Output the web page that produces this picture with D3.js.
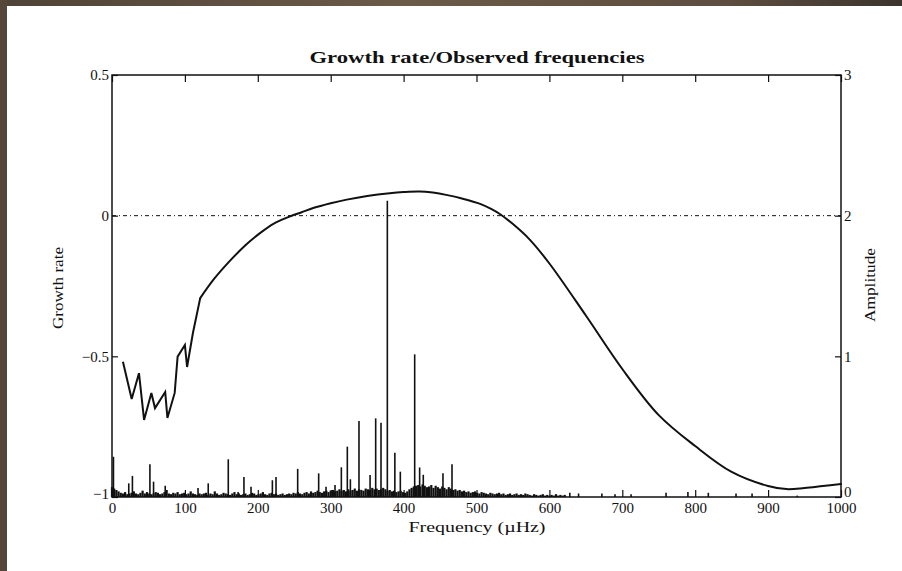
<!DOCTYPE html>
<html><head><meta charset="utf-8">
<script src="https://cdn.jsdelivr.net/npm/d3@7/dist/d3.min.js"></script>
<style>html,body{margin:0;padding:0;background:#fff;}svg{display:block;}</style>
</head><body>
<svg id="chart" width="902" height="571"></svg>
<script>
// ---------- DATA ----------
const title = "Growth rate/Observed frequencies";
const xLabel = "Frequency (µHz)";
const yLeftLabel = "Growth rate";
const yRightLabel = "Amplitude";
const xTicks = [0,100,200,300,400,500,600,700,800,900,1000];
const yLeftTicks = [-1,-0.5,0,0.5];
const yRightTicks = [0,1,2,3];

// growth rate curve, jagged low-frequency part: frequency (µHz), growth rate
const jagFreq = [15,27,37,44,54,59,73,76,86,90,100,103,111,121];
const jagRate = [-0.519,-0.652,-0.56,-0.726,-0.63,-0.684,-0.627,-0.719,-0.63,-0.501,-0.46,-0.538,-0.417,-0.293];
// growth rate curve, smooth part
const smoothFreq = [121,140,162,183,203,222,241,260,276,300,322,350,381,400,422,440,460,480,505,520,532,550,573,600,650,700,750,800,850,900,925,950,975,1000];
const smoothRate = [-0.293,-0.225,-0.16,-0.105,-0.062,-0.028,-0.006,0.012,0.027,0.044,0.057,0.07,0.08,0.084,0.086,0.082,0.073,0.061,0.042,0.024,0.006,-0.03,-0.085,-0.17,-0.355,-0.545,-0.709,-0.819,-0.911,-0.961,-0.972,-0.968,-0.961,-0.954];

// observed spectrum: prominent peaks (frequency, amplitude)
const peakFreq = [2,23,28,52,57,73,118,132,159.5,173,181,190.7,220,225,254.7,283.5,293.6,305.9,314.6,322.8,327,338.8,354,361.7,369,377.7,388,395.5,415.2,422,427,454,466.4,628,640,672,690,712,760,790,818,856,878,940];
const peakAmp  = [0.286,0.097,0.15,0.232,0.109,0.08,0.064,0.097,0.268,0.036,0.142,0.073,0.119,0.142,0.2,0.168,0.073,0.085,0.211,0.358,0.126,0.54,0.156,0.559,0.528,2.106,0.315,0.18,1.014,0.21,0.158,0.168,0.232,0.03,0.025,0.025,0.02,0.02,0.03,0.035,0.03,0.025,0.025,0.01];

// observed spectrum: noise floor, one value every 3 µHz starting at 0
const noiseStart = 0, noiseStep = 3;
const noiseAmp = [
 0.07,0.06,0.05,0.04,0.03,0.025,0.035,0.02,0.025,0.03,0.04,0.025,0.02,0.03,0.045,0.025,0.035,0.025,0.02,0.025,0.035,
 0.03,0.02,0.025,0.035,0.05,0.025,0.02,0.03,0.025,0.035,0.02,0.025,0.03,0.02,0.025,0.04,0.025,0.02,0.015,0.025,
 0.02,0.025,0.03,0.015,0.025,0.02,0.04,0.025,0.015,0.02,0.03,0.025,0.02,0.015,0.025,0.035,0.02,0.025,0.015,0.02,
 0.025,0.015,0.02,0.03,0.025,0.015,0.02,0.025,0.035,0.02,0.015,0.025,0.03,0.02,0.025,0.015,0.02,0.025,0.015,0.02,
 0.025,0.02,0.03,0.025,0.035,0.025,0.02,0.03,0.035,0.025,0.04,0.03,0.035,0.045,0.035,0.03,0.04,0.045,0.035,0.045,
 0.05,0.04,0.045,0.055,0.045,0.05,0.04,0.055,0.045,0.05,0.06,0.045,0.055,0.05,0.045,0.06,0.055,0.05,0.065,0.055,
 0.06,0.05,0.055,0.065,0.055,0.045,0.05,0.04,0.045,0.035,0.04,0.045,0.035,0.03,0.04,0.055,0.065,0.075,0.08,0.085,
 0.075,0.09,0.08,0.07,0.075,0.085,0.065,0.08,0.07,0.06,0.075,0.065,0.055,0.07,0.06,0.05,0.055,0.045,0.05,0.04,
 0.045,0.035,0.04,0.03,0.035,0.04,0.03,0.025,0.035,0.03,0.025,0.02,0.03,0.025,0.02,0.025,0.03,0.02,0.025,0.015,
 0.02,0.025,0.015,0.02,0.025,0.015,0.02,0.015,0.025,0.02,0.015,0.01,0.02,0.015,0.01,0.015,0.02,0.01,0.015,0.01,
 0.015,0.01,0.02,0.01,0.015,0.01,0.015
];

// ---------- DRAW ----------
const svg = d3.select("#chart");
const serif = "'Liberation Serif','DejaVu Serif',serif";

// slide background frame
const defs = svg.append("defs");
const grad = defs.append("linearGradient").attr("id","topband");
grad.append("stop").attr("offset","0%").attr("stop-color","#4f4337");
grad.append("stop").attr("offset","45%").attr("stop-color","#6c5a48");
grad.append("stop").attr("offset","80%").attr("stop-color","#5e4e3f");
grad.append("stop").attr("offset","100%").attr("stop-color","#3c342d");
svg.append("rect").attr("x",0).attr("y",0).attr("width",902).attr("height",6).attr("fill","url(#topband)");
svg.append("rect").attr("x",0).attr("y",0).attr("width",7).attr("height",571).attr("fill","#544739");

const x = d3.scaleLinear().domain([0,1000]).range([112,841]);
const yL = d3.scaleLinear().domain([-1,0.5]).range([497,75]);
const yR = d3.scaleLinear().domain([0,3]).range([497,75]);

const ink = "#111";

// spectrum bars
const noiseData = noiseAmp.map((a,i)=>({f: noiseStart + i*noiseStep, a}));
const peakData = peakFreq.map((f,i)=>({f, a: peakAmp[i]}));
const spec = svg.append("g").attr("stroke", ink);
spec.selectAll("line.n").data(noiseData).join("line").attr("class","n").attr("stroke-width",2.2)
  .attr("x1",d=>x(d.f)).attr("x2",d=>x(d.f)).attr("y1",yR(0)).attr("y2",d=>yR(d.a));
spec.selectAll("line.p").data(peakData).join("line").attr("class","p").attr("stroke-width",1.6)
  .attr("x1",d=>x(d.f)).attr("x2",d=>x(d.f)).attr("y1",yR(0)).attr("y2",d=>yR(d.a));

// zero growth dash-dot line
svg.append("line").attr("x1",x(0)).attr("x2",x(1000)).attr("y1",yL(0)).attr("y2",yL(0))
  .attr("stroke",ink).attr("stroke-width",1).attr("stroke-dasharray","4,3,1,3");

// growth curve
const jagData = jagFreq.map((f,i)=>[f, jagRate[i]]);
const smoothData = smoothFreq.map((f,i)=>[f, smoothRate[i]]);
svg.append("path").datum(jagData)
  .attr("d", d3.line().x(d=>x(d[0])).y(d=>yL(d[1])))
  .attr("fill","none").attr("stroke",ink).attr("stroke-width",2).attr("stroke-linejoin","miter");
svg.append("path").datum(smoothData)
  .attr("d", d3.line().x(d=>x(d[0])).y(d=>yL(d[1])).curve(d3.curveCatmullRom.alpha(0.5)))
  .attr("fill","none").attr("stroke",ink).attr("stroke-width",2).attr("stroke-linecap","round");

// axes
function styleAxis(g){
  g.select(".domain").remove();
  g.selectAll(".tick line").attr("stroke",ink).attr("stroke-width",1.2);
  g.selectAll(".tick text").attr("fill",ink).attr("font-family",serif).attr("font-size",15);
}
svg.append("g").attr("transform",`translate(0,${yL.range()[0]})`)
  .call(d3.axisBottom(x).tickValues(xTicks).tickSize(-7).tickPadding(5).tickFormat(d3.format("d")))
  .call(styleAxis);
svg.append("g").attr("transform",`translate(0,${yL.range()[1]})`)
  .call(d3.axisTop(x).tickValues(xTicks).tickSize(-7).tickFormat(""))
  .call(styleAxis);
const gl = svg.append("g").attr("transform",`translate(${x.range()[0]},0)`)
  .call(d3.axisLeft(yL).tickValues(yLeftTicks).tickSize(-6).tickPadding(3).tickFormat(d3.format("")))
  .call(styleAxis);
const gr = svg.append("g").attr("transform",`translate(${x.range()[1]},0)`)
  .call(d3.axisRight(yR).tickValues(yRightTicks).tickSize(-6).tickPadding(3).tickFormat(d3.format("d")))
  .call(styleAxis);
// lift the lowest vertical-axis labels so they sit above the x labels, as in the reference
gl.selectAll(".tick text").filter(d=>d===-1).attr("dy","0.1em");
gr.selectAll(".tick text").filter(d=>d===0).attr("dy","-0.05em");

// frame
svg.append("rect").attr("x",x(0)).attr("y",yL(0.5)).attr("width",x(1000)-x(0)).attr("height",yL(-1)-yL(0.5))
  .attr("fill","none").attr("stroke",ink).attr("stroke-width",1.5);

// titles
svg.append("text").attr("x",477).attr("y",63).attr("text-anchor","middle")
  .attr("font-family",serif).attr("font-weight","bold").attr("font-size",17).attr("fill",ink)
  .attr("textLength",335).attr("lengthAdjust","spacingAndGlyphs").text(title);
svg.append("text").attr("x",477).attr("y",532).attr("text-anchor","middle")
  .attr("font-family",serif).attr("font-size",15).attr("fill",ink)
  .attr("textLength",137).attr("lengthAdjust","spacingAndGlyphs").text(xLabel);
svg.append("text").attr("transform","translate(63,288) rotate(-90)").attr("text-anchor","middle")
  .attr("font-family",serif).attr("font-size",15).attr("fill",ink)
  .attr("textLength",82).attr("lengthAdjust","spacingAndGlyphs").text(yLeftLabel);
svg.append("text").attr("transform","translate(875,285) rotate(-90)").attr("text-anchor","middle")
  .attr("font-family",serif).attr("font-size",15).attr("fill",ink)
  .attr("textLength",74).attr("lengthAdjust","spacingAndGlyphs").text(yRightLabel);
</script>
</body></html>
